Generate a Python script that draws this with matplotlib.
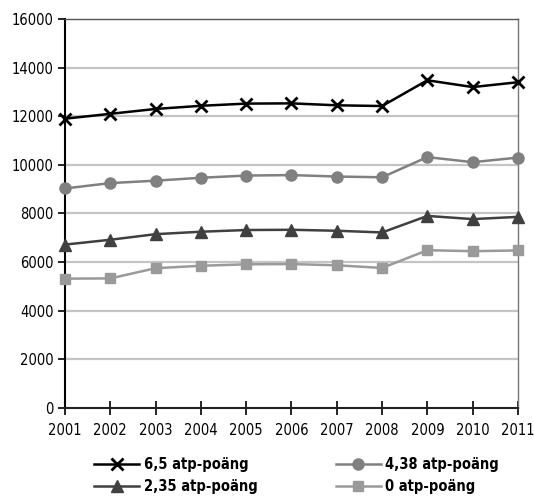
import matplotlib
matplotlib.use('Agg')
import matplotlib.pyplot as plt
from matplotlib.ticker import MultipleLocator

plt.rcParams['font.family'] = ['DejaVu Sans']
plt.rcParams['font.stretch'] = 'condensed'

# --- DATOS ---
years = [2001, 2002, 2003, 2004, 2005, 2006, 2007, 2008, 2009, 2010, 2011]
serie_65 = [11900, 12100, 12300, 12430, 12520, 12530, 12450, 12420, 13480, 13200, 13400]
serie_438 = [9030, 9250, 9350, 9470, 9560, 9580, 9520, 9490, 10320, 10110, 10300]
serie_235 = [6720, 6920, 7150, 7250, 7320, 7330, 7290, 7220, 7900, 7770, 7860]
serie_0 = [5320, 5330, 5750, 5850, 5910, 5920, 5870, 5760, 6490, 6450, 6480]
labels = ['6,5 atp-poäng', '4,38 atp-poäng', '2,35 atp-poäng', '0 atp-poäng']

fig = plt.figure(figsize=(5.34, 5.04), dpi=100)
ax = fig.add_axes([0.1217, 0.1905, 0.8483, 0.7718])

for y in range(2000, 16000, 2000):
    ax.axhline(y, color='#c4c4c4', linewidth=1.6, zorder=0)

l1, = ax.plot(years, serie_65, color='black', linewidth=1.8, marker='x',
              markersize=8, markeredgewidth=2, label=labels[0], zorder=5, clip_on=False)
l2, = ax.plot(years, serie_438, color='#808080', linewidth=1.8, marker='o',
              markersize=8, label=labels[1], zorder=4, clip_on=False)
l3, = ax.plot(years, serie_235, color='#404040', linewidth=1.8, marker='^',
              markersize=8, label=labels[2], zorder=4, clip_on=False)
l4, = ax.plot(years, serie_0, color='#9a9a9a', linewidth=1.8, marker='s',
              markersize=7, label=labels[3], zorder=3, clip_on=False)

ax.set_xlim(2001, 2011)
ax.set_ylim(0, 16000)
ax.set_xticks(years)
ax.yaxis.set_major_locator(MultipleLocator(2000))

ax.spines['left'].set_color('black')
ax.spines['left'].set_linewidth(1.5)
ax.spines['bottom'].set_color('#222222')
ax.spines['bottom'].set_linewidth(1.5)
ax.spines['top'].set_color('#555555')
ax.spines['top'].set_linewidth(1.0)
ax.spines['right'].set_color('#777777')
ax.spines['right'].set_linewidth(1.0)

ax.tick_params(axis='y', direction='out', length=5, width=1.2, labelsize=10.5, pad=3)
ax.tick_params(axis='x', direction='inout', length=10, width=1.2, labelsize=10.5, pad=6)

leg_prop = {'weight': 'bold', 'size': 10.5, 'stretch': 'condensed'}
leg1 = fig.legend(handles=[l1, l3], labels=[labels[0], labels[2]],
                  loc='upper left', bbox_to_anchor=(0.176, 0.093), frameon=False,
                  handlelength=3.1, labelspacing=0.5, handletextpad=0.3,
                  prop=leg_prop, borderaxespad=0, borderpad=0)
leg2 = fig.legend(handles=[l2, l4], labels=[labels[1], labels[3]],
                  loc='upper left', bbox_to_anchor=(0.629, 0.093), frameon=False,
                  handlelength=3.1, labelspacing=0.5, handletextpad=0.3,
                  prop=leg_prop, borderaxespad=0, borderpad=0)

plt.savefig('out.png', dpi=100)
plt.close()
